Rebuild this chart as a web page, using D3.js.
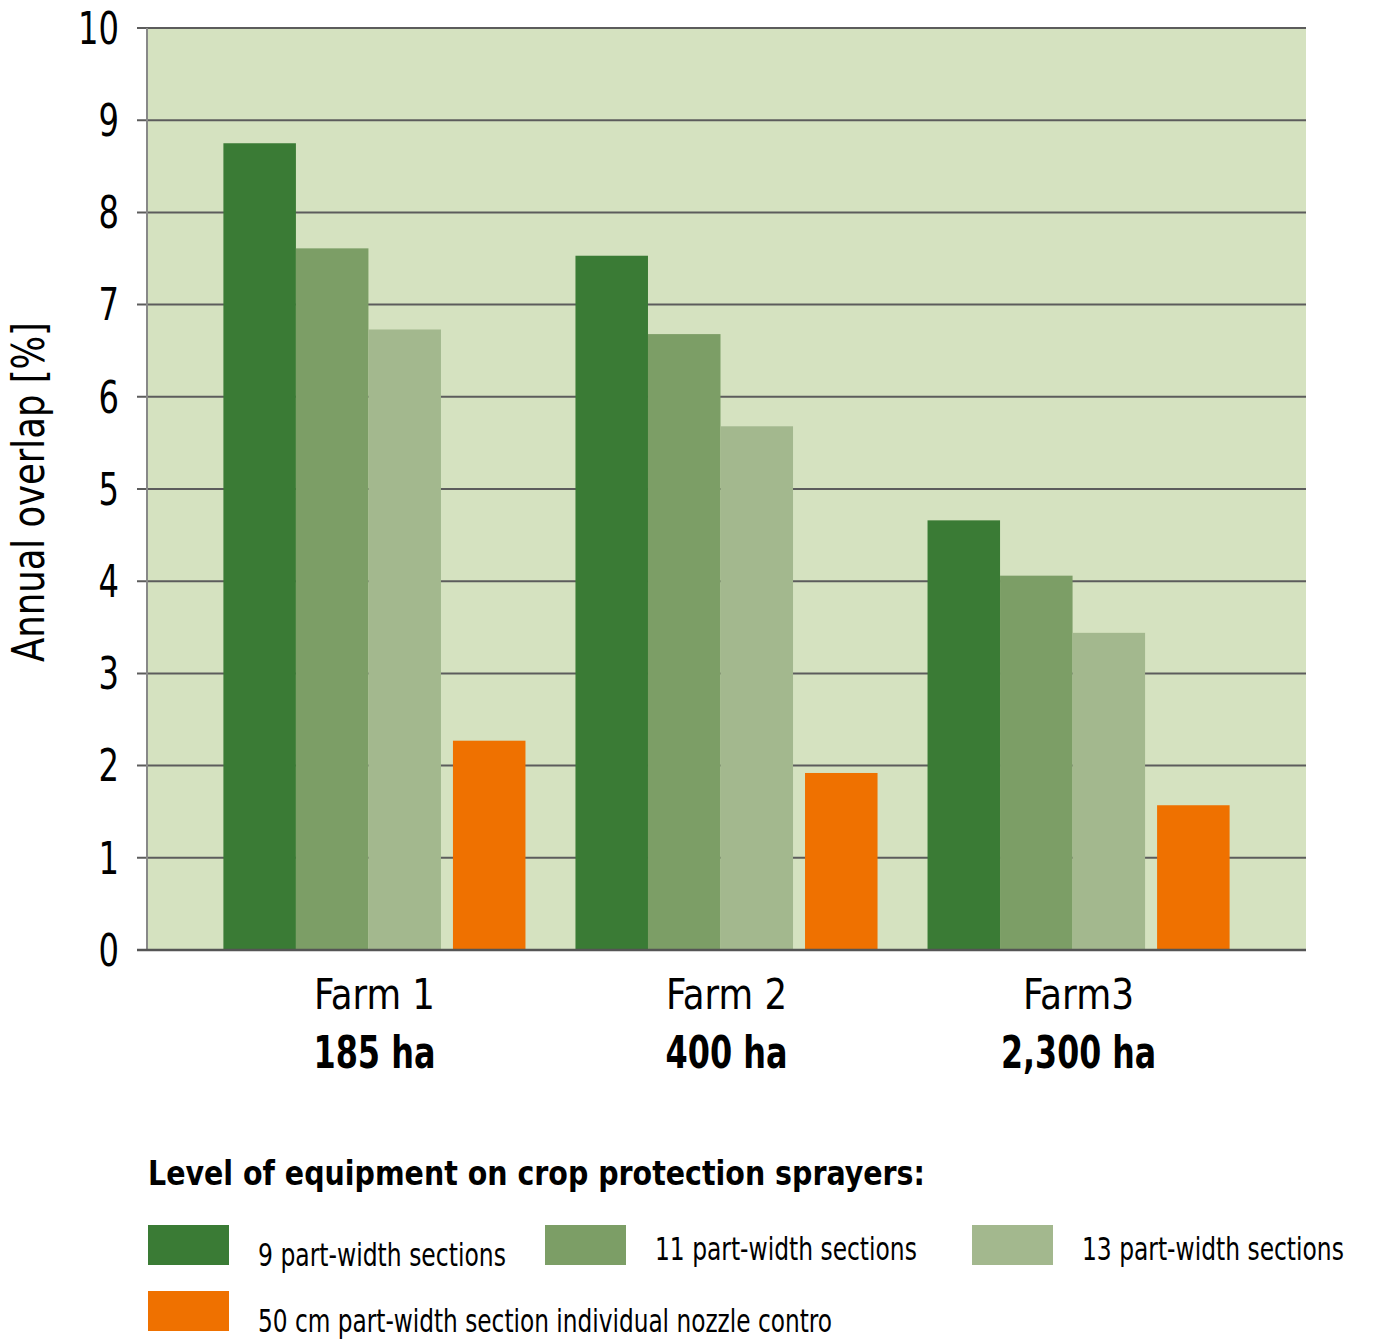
<!DOCTYPE html>
<html>
<head>
<meta charset="utf-8">
<script src="https://cdn.jsdelivr.net/npm/d3@7"></script>
<style>
  body { margin: 0; background: #fff; }
  text { font-family: "DejaVu Sans Condensed", "DejaVu Sans", sans-serif; fill: #000; }
</style>
</head>
<body>
<svg id="chart" width="1389" height="1343"></svg>
<script>
"use strict";

// farms along the x axis
const farms = ["Farm 1", "Farm 2", "Farm3"];
const farmSizes = ["185 ha", "400 ha", "2,300 ha"];

// sprayer equipment series
const seriesNames = [
  "9 part-width sections",
  "11 part-width sections",
  "13 part-width sections",
  "50 cm part-width section individual nozzle contro"
];
const seriesColors = ["#3a7b35", "#7c9e66", "#a3b88e", "#ef7100"];

// annual overlap [%] per farm, one array per series
const sections9  = [8.75, 7.53, 4.66];
const sections11 = [7.61, 6.68, 4.06];
const sections13 = [6.73, 5.68, 3.44];
const nozzle50cm = [2.27, 1.92, 1.57];

const yTicks = [0, 1, 2, 3, 4, 5, 6, 7, 8, 9, 10];
const legendTitle = "Level of equipment on crop protection sprayers:";

const seriesValues = [sections9, sections11, sections13, nozzle50cm];

const svg = d3.select("#chart");
const plot = { left: 147, right: 1306, top: 28, bottom: 950 };

/* squeeze a text horizontally to a given width (the original uses a condensed face) */
function fit(sel, w) {
  sel.each(function(d, i) {
    const t = d3.select(this);
    const target = typeof w === "function" ? w(d, i) : w;
    const natural = this.getComputedTextLength();
    const x = +t.attr("x") || 0, y = +t.attr("y") || 0;
    const prefix = t.attr("transform") || "";
    t.attr("x", 0).attr("y", 0)
      .attr("transform", prefix + " translate(" + x + "," + y + ") scale(" + (target / natural) + ",1)");
  });
}

const x0 = d3.scaleBand()
    .domain(farms)
    .range([plot.left, plot.right])
    .paddingInner(0.142)
    .paddingOuter(0.217);

const y = d3.scaleLinear()
    .domain([0, 10])
    .range([plot.bottom, plot.top]);

/* background of the plot area */
svg.append("rect")
    .attr("x", plot.left)
    .attr("y", plot.top)
    .attr("width", plot.right - plot.left)
    .attr("height", plot.bottom - plot.top)
    .attr("fill", "#d5e2c0");

/* grid lines */
svg.append("g")
    .selectAll("line")
    .data(yTicks.filter(d => d > 0))
    .enter().append("line")
    .attr("x1", plot.left - 10)
    .attr("x2", plot.right)
    .attr("y1", d => y(d))
    .attr("y2", d => y(d))
    .attr("stroke", "#5c5c5c")
    .attr("stroke-width", 2);

/* bars: three adjacent green bars, small gap, then the orange one */
const gap = 12;
const barW = (x0.bandwidth() - gap) / 4;
function barX(farm, s) {
  return x0(farm) + s * barW + (s === 3 ? gap : 0);
}

const cells = [];
seriesValues.forEach((vals, s) => {
  vals.forEach((v, f) => cells.push({ s: s, farm: farms[f], value: v }));
});

svg.append("g")
    .selectAll("rect")
    .data(cells)
    .enter().append("rect")
    .attr("x", d => barX(d.farm, d.s))
    .attr("y", d => y(d.value))
    .attr("width", barW)
    .attr("height", d => y(0) - y(d.value))
    .attr("fill", d => seriesColors[d.s]);

/* y axis line and zero line */
svg.append("line")
    .attr("x1", plot.left).attr("x2", plot.left)
    .attr("y1", plot.top).attr("y2", plot.bottom)
    .attr("stroke", "#888").attr("stroke-width", 2);

svg.append("line")
    .attr("x1", plot.left - 10).attr("x2", plot.right)
    .attr("y1", plot.bottom).attr("y2", plot.bottom)
    .attr("stroke", "#555").attr("stroke-width", 2.5);

/* y tick labels */
svg.append("g")
    .selectAll("text")
    .data(yTicks)
    .enter().append("text")
    .attr("x", 119)
    .attr("y", d => y(d))
    .attr("dy", "0.36em")
    .attr("text-anchor", "end")
    .style("font-size", "44px")
    .text(d => d)
    .call(fit, d => String(d).length * 20.5);

/* y axis title */
svg.append("text")
    .attr("transform", "translate(44,492) rotate(-90)")
    .attr("text-anchor", "middle")
    .style("font-size", "45px")
    .text("Annual overlap [%]")
    .call(fit, 340);

/* farm labels */
const farmWidths = [121, 121, 111];
const sizeWidths = [122, 122, 155];

const farmLabels = svg.append("g")
    .selectAll("g")
    .data(farms)
    .enter().append("g")
    .attr("transform", d => "translate(" + (x0(d) + x0.bandwidth() / 2) + ",0)");

farmLabels.append("text")
    .attr("y", 1009)
    .attr("text-anchor", "middle")
    .style("font-size", "43px")
    .text(d => d)
    .call(fit, (d, i) => farmWidths[i]);

farmLabels.append("text")
    .attr("y", 1068)
    .attr("text-anchor", "middle")
    .style("font-size", "45px")
    .style("font-weight", "bold")
    .text((d, i) => farmSizes[i])
    .call(fit, (d, i) => sizeWidths[i]);

/* legend */
svg.append("text")
    .attr("x", 148)
    .attr("y", 1185)
    .style("font-size", "33px")
    .style("font-weight", "bold")
    .text(legendTitle)
    .call(fit, 777);

const legendPos = [
  { x: 148, y: 1225, ty: 1266, w: 248 },
  { x: 545, y: 1225, ty: 1260, w: 262 },
  { x: 972, y: 1225, ty: 1260, w: 262 },
  { x: 148, y: 1291, ty: 1332, w: 574 }
];

const legend = svg.append("g")
    .selectAll("g")
    .data(seriesNames)
    .enter().append("g");

legend.append("rect")
    .attr("x", (d, i) => legendPos[i].x)
    .attr("y", (d, i) => legendPos[i].y)
    .attr("width", 81)
    .attr("height", 40)
    .attr("fill", (d, i) => seriesColors[i]);

legend.append("text")
    .attr("x", (d, i) => legendPos[i].x + 110)
    .attr("y", (d, i) => legendPos[i].ty)
    .style("font-size", "32px")
    .text(d => d)
    .call(fit, (d, i) => legendPos[i].w);
</script>
</body>
</html>
